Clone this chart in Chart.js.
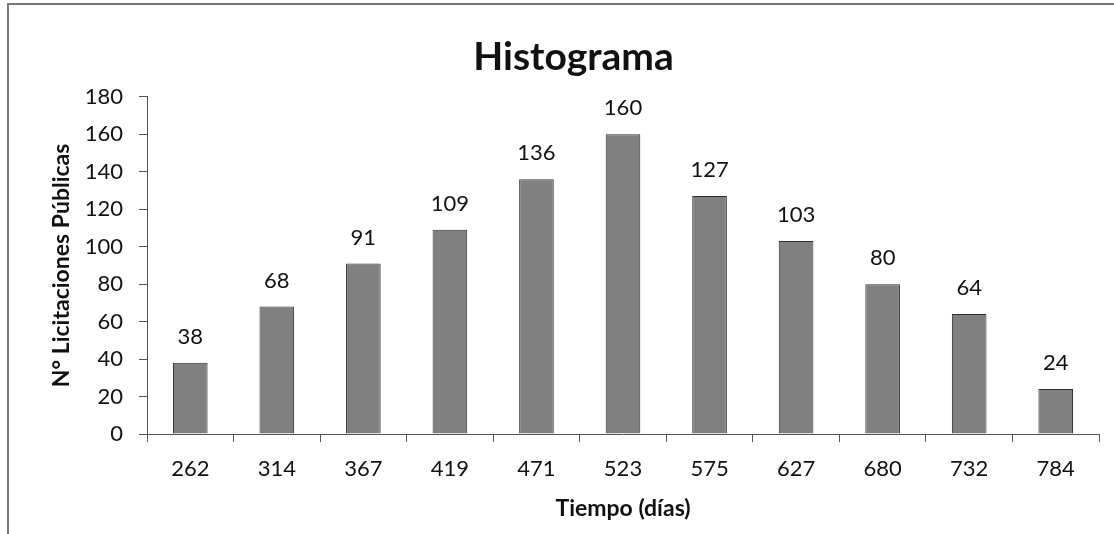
<!DOCTYPE html>
<html>
<head>
<meta charset="utf-8">
<script src="https://cdn.jsdelivr.net/npm/chart.js@4/dist/chart.umd.min.js"></script>
<style>
  html, body { margin: 0; padding: 0; background: #fff; }
  #wrap { position: relative; width: 1114px; height: 534px; }
  #frame { position: absolute; left: 7px; top: 3px; width: 1120px; height: 540px;
           border-left: 2px solid #777; border-top: 2px solid #777; }
  canvas { position: absolute; left: 0; top: 0; }
</style>
</head>
<body>
<div id="wrap">
  <div id="frame"></div>
  <canvas id="chart" width="1114" height="534"></canvas>
</div>
<script>
const categories = ['262', '314', '367', '419', '471', '523', '575', '627', '680', '732', '784'];
const counts = [38, 68, 91, 109, 136, 160, 127, 103, 80, 64, 24];

const FONT = 'Lato, "Open Sans", sans-serif';

// numbers over each bar
const valueLabels = {
  id: 'valueLabels',
  afterDatasetsDraw(c) {
    const ctx = c.ctx;
    const meta = c.getDatasetMeta(0);
    ctx.save();
    ctx.font = `22px ${FONT}`;
    ctx.fillStyle = '#111';
    ctx.textAlign = 'center';
    ctx.textBaseline = 'middle';
    meta.data.forEach((bar, i) => {
      ctx.fillText(String(counts[i]), bar.x, bar.y - 26);
    });
    ctx.restore();
  }
};

new Chart(document.getElementById('chart'), {
  type: 'bar',
  data: {
    labels: categories,
    datasets: [{
      data: counts,
      backgroundColor: '#808080',
      borderColor: '#2e2e2e',
      borderWidth: 1,
      barPercentage: 0.4,
      categoryPercentage: 1
    }]
  },
  options: {
    responsive: false,
    animation: false,
    layout: { padding: { left: 48, right: 15, top: 0, bottom: 0 } },
    plugins: {
      legend: { display: false },
      tooltip: { enabled: false },
      title: {
        display: true,
        text: 'Histograma',
        color: '#111',
        font: { family: FONT, size: 39, weight: 'bold' },
        padding: { top: 34, bottom: 16 }
      }
    },
    scales: {
      x: {
        offset: true,
        afterFit(s) { s.height = 100; },
        grid: { offset: true, drawOnChartArea: false, drawTicks: true, tickLength: 8, color: '#555' },
        border: { color: '#555', width: 1 },
        ticks: { color: '#111', font: { family: FONT, size: 22 }, padding: 14 },
        title: {
          display: true, text: 'Tiempo (días)', color: '#111',
          font: { family: FONT, size: 23, weight: 'bold' }, padding: { top: 0, bottom: 12 }
        }
      },
      y: {
        min: 0, max: 180,
        afterFit(s) { s.width = 99; },
        ticks: { stepSize: 20, color: '#111', font: { family: FONT, size: 22 }, padding: 16 },
        grid: { drawOnChartArea: false, drawTicks: true, tickLength: 8, color: '#555' },
        border: { color: '#555', width: 1 },
        title: {
          display: true, text: 'N° Licitaciones Públicas', color: '#111',
          font: { family: FONT, size: 23, weight: 'bold' }, padding: { top: 0, bottom: 0 }
        }
      }
    }
  },
  plugins: [valueLabels]
});
</script>
</body>
</html>
